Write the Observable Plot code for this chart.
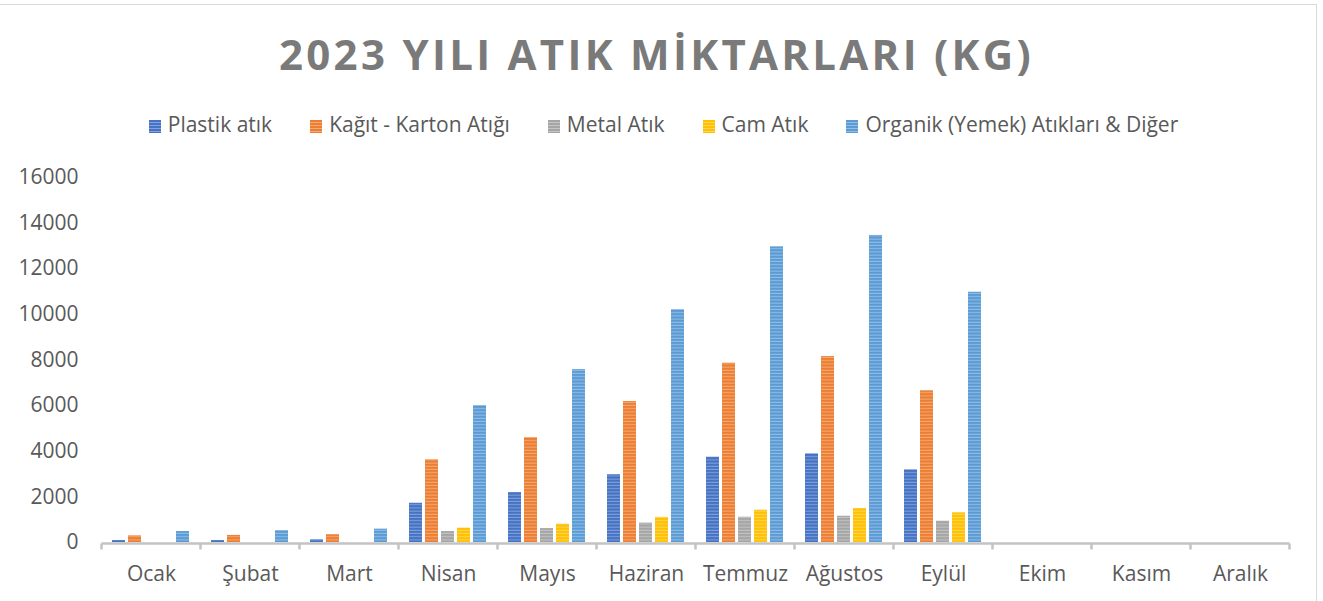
<!DOCTYPE html>
<html>
<head>
<meta charset="utf-8">
<script src="https://cdn.jsdelivr.net/npm/d3@7"></script>
<script src="https://cdn.jsdelivr.net/npm/@observablehq/plot@0.6"></script>
<style>
  html, body { margin: 0; padding: 0; background: #fff; }
  #wrap { position: relative; width: 1323px; height: 601px; overflow: hidden; font-family: "Open Sans", sans-serif; }
  #frame { position: absolute; left: -2px; top: 4px; width: 1319px; height: 640px; border: 1.5px solid #d9d9d9; box-sizing: border-box; }
  #title { position: absolute; left: 0; width: 1313px; top: 33px; text-align: center; font-size: 42px; line-height: 1; font-weight: 700; letter-spacing: 3.3px; color: #7a7a7a; white-space: nowrap; }
  #legend { position: absolute; left: 0; width: 1327px; top: 114px; display: flex; justify-content: center; gap: 38px; font-size: 21px; line-height: 1; color: #595959; white-space: nowrap; }
  #legend .item { display: flex; align-items: center; gap: 7px; }
  #legend .sw { width: 12px; height: 13px; display: inline-block; margin-top: 3px; }
  #chart { position: absolute; left: 0; top: 150px; }
</style>
</head>
<body>
<div id="wrap">
  <div id="frame"></div>
  <div id="title">2023 YILI ATIK MİKTARLARI (KG)</div>
  <div id="legend"></div>
  <div id="chart"></div>
</div>
<script>
const months = ["Ocak","Şubat","Mart","Nisan","Mayıs","Haziran","Temmuz","Ağustos","Eylül","Ekim","Kasım","Aralık"];
const series = ["Plastik atık","Kağıt - Karton Atığı","Metal Atık","Cam Atık","Organik (Yemek) Atıkları & Diğer"];
const plastik = [90, 90, 120, 1720, 2190, 2970, 3740, 3890, 3190, null, null, null];
const kagit   = [290, 310, 340, 3625, 4600, 6180, 7860, 8150, 6650, null, null, null];
const metal   = [0, 0, 0, 480, 610, 850, 1110, 1150, 935, null, null, null];
const cam     = [0, 0, 0, 630, 800, 1100, 1415, 1490, 1300, null, null, null];
const organik = [480, 525, 585, 6005, 7580, 10210, 12960, 13460, 10970, null, null, null];
const yTicks = [0, 2000, 4000, 6000, 8000, 10000, 12000, 14000, 16000];
const colors = ["#4472C4", "#ED7D31", "#A5A5A5", "#FFC000", "#5B9BD5"];

const valuesBySeries = [plastik, kagit, metal, cam, organik];
const data = [];
months.forEach((m, i) => {
  series.forEach((s, j) => {
    data.push({month: m, series: s, value: valuesBySeries[j][i]});
  });
});

const lighten = (c, k) => d3.interpolateRgb(c, "#ffffff")(k);
const patternIds = series.map((s, j) => `pat${j}`);

const plot = Plot.plot({
  width: 1323,
  height: 451,
  marginTop: 27,
  marginBottom: 59,
  marginLeft: 100,
  marginRight: 31,
  style: { fontFamily: "'Open Sans', sans-serif", fontSize: "21px", color: "#595959", background: "transparent" },
  fx: { domain: months, paddingInner: 0.21, paddingOuter: 0.105, label: null, tickSize: 0, tickPadding: 24, axis: "bottom" },
  x: { domain: series, paddingInner: 0.17, paddingOuter: 0, axis: null },
  y: { domain: [0, 16000], ticks: yTicks, tickSize: 0, tickPadding: 34, label: null, grid: false, tickFormat: d => String(d) },
  color: { domain: series, range: patternIds.map(id => `url(#${id})`) },
  marks: [
    Plot.barY(data, { fx: "month", x: "series", y: "value", fill: "series" })
  ]
});

// patterns (horizontal stripes)
const svg = d3.select(plot.tagName.toLowerCase() === "svg" ? plot : plot.querySelector("svg"));
const defs = svg.insert("defs", ":first-child");
series.forEach((s, j) => {
  const p = defs.append("pattern").attr("id", patternIds[j]).attr("patternUnits", "userSpaceOnUse")
    .attr("width", 8).attr("height", 3.2);
  p.append("rect").attr("width", 8).attr("height", 3.2).attr("fill", colors[j]);
  p.append("rect").attr("y", 2.2).attr("width", 8).attr("height", 1).attr("fill", lighten(colors[j], 0.35));
});

// x axis baseline and category boundary ticks, positioned with the plot's scales
const fx = plot.scale("fx");
const y = plot.scale("y");
const step = fx.step, bw = fx.bandwidth;
const y0 = y.apply(0) + 1.5;
const bounds = months.map(m => fx.apply(m) - (step - bw) / 2);
bounds.push(fx.apply(months[months.length - 1]) + bw + (step - bw) / 2);
const g = svg.append("g").attr("stroke", "#c3c3c3").attr("stroke-width", 2.5).attr("fill", "none");
g.append("line").attr("x1", bounds[0]).attr("x2", bounds[bounds.length - 1]).attr("y1", y0).attr("y2", y0);
bounds.forEach(b => g.append("line").attr("x1", b).attr("x2", b).attr("y1", y0).attr("y2", y0 + 6));

document.getElementById("chart").appendChild(plot);

// legend
const legend = d3.select("#legend");
series.forEach((s, j) => {
  const it = legend.append("div").attr("class", "item");
  it.append("span").attr("class", "sw")
    .style("background", `repeating-linear-gradient(to bottom, ${colors[j]} 0px, ${colors[j]} 2px, ${lighten(colors[j], 0.35)} 2px, ${lighten(colors[j], 0.35)} 3px)`);
  it.append("span").text(s);
});
</script>
</body>
</html>
